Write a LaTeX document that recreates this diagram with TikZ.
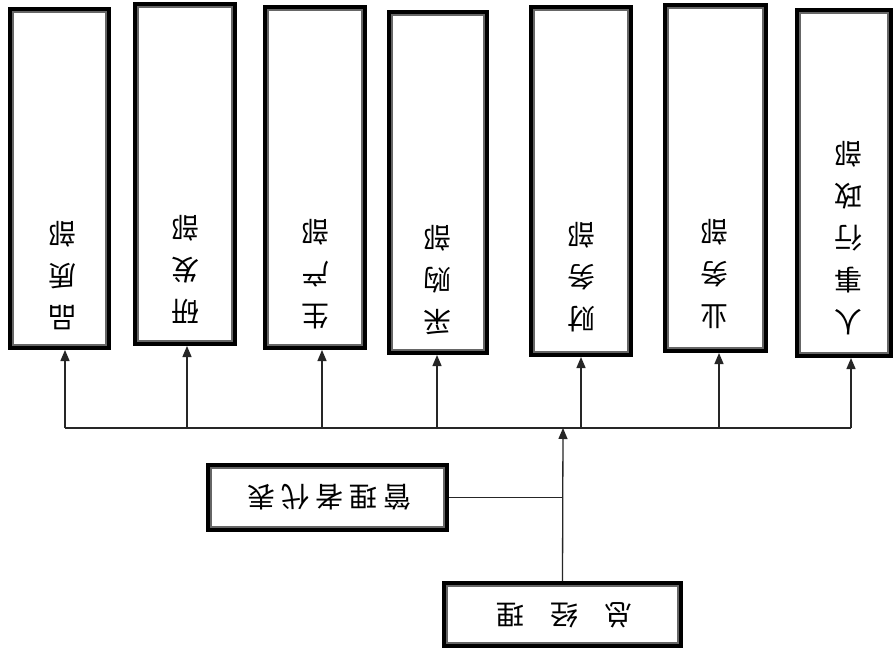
\documentclass[tikz,border=0pt]{standalone}
\usepackage{fontspec}
\newfontfamily\cjk{Noto Sans CJK SC}
\usetikzlibrary{arrows.meta}
\tikzset{
  boxstyle/.style={draw=black, line width=3.8pt, inner sep=0pt, fill=white},
  innerline/.style={draw=black!60, line width=1.4pt},
  vtext/.style={rotate=180, anchor=north, align=center, inner sep=0pt,
    font=\cjk\fontsize{28}{42}\selectfont},
  htext/.style={rotate=180, inner sep=0pt, font=\cjk\fontsize{28}{34}\selectfont},
  conn/.style={line width=1.3pt, draw=black!85},
  bus/.style={line width=1.8pt, draw=black!85},
  arr/.style={conn, -{Triangle[length=11pt,width=9pt]}}
}
\begin{document}
\begin{tikzpicture}[x=1pt,y=-1pt]
\useasboundingbox[fill=white] (0,0) rectangle (896,652);
% department boxes
\node[boxstyle, minimum width=99.2pt, minimum height=339.2pt] (b1) at (59.5,178.5) {};
\node[boxstyle, minimum width=100.2pt, minimum height=340.2pt] (b2) at (185,174) {};
\node[boxstyle, minimum width=100.2pt, minimum height=341.2pt] (b3) at (315,177.5) {};
\node[boxstyle, minimum width=98.2pt, minimum height=341.2pt] (b4) at (438,182.5) {};
\node[boxstyle, minimum width=100.2pt, minimum height=348.2pt] (b5) at (581,181) {};
\node[boxstyle, minimum width=101.2pt, minimum height=346.2pt] (b6) at (715.5,178) {};
\node[boxstyle, minimum width=94.2pt, minimum height=346.2pt] (b7) at (844,183) {};
% management boxes
\node[boxstyle, minimum width=239.2pt, minimum height=65.2pt] (rep) at (327.5,497.5) {};
\node[boxstyle, minimum width=237.2pt, minimum height=63.2pt] (gm) at (562.5,614.5) {};
% inner gray frames
\foreach \n in {b1,b2,b3,b4,b5,b6,b7,rep,gm}
  \draw[innerline] ([xshift=5pt,yshift=-5pt]\n.north west) rectangle ([xshift=-5pt,yshift=5pt]\n.south east);
% texts (upside down)
\node[vtext] (t1) at (62,330) {品\\质\\部};
\node[vtext] (t2) at (185,324) {研\\发\\部};
\node[vtext] (t3) at (315,329) {生\\产\\部};
\node[vtext] (t4) at (437,335) {采\\购\\部};
\node[vtext] (t5) at (581,332) {财\\务\\部};
\node[vtext] (t6) at (714,329) {业\\务\\部};
\node[vtext] (t7) at (848,335) {人\\事\\行\\政\\部};
\node[htext] (trep) at (329,497) {管\kern6pt 理\kern6pt 者\kern6pt 代\kern6pt 表};
\node[htext] (tgm) at (564.5,615) {总\kern26pt 经\kern26pt 理};
% bus and connectors
\coordinate (j1) at (65,428);
\coordinate (j2) at (187,428);
\coordinate (j3) at (322,428);
\coordinate (j4) at (437,428);
\coordinate (j5) at (581,428);
\coordinate (j6) at (719,428);
\coordinate (j7) at (851,428);
\coordinate (jg) at (563,428);
\draw[bus] (j1) -- (j7);
\draw[arr] (j1) -- (j1 |- b1.south);
\draw[arr] (j2) -- (j2 |- b2.south);
\draw[arr] (j3) -- (j3 |- b3.south);
\draw[arr] (j4) -- (j4 |- b4.south);
\draw[arr] (j5) -- (j5 |- b5.south);
\draw[arr] (j6) -- (j6 |- b6.south);
\draw[arr] (j7) -- (j7 |- b7.south);
\draw[arr] (gm.north) -- (jg);
\draw[conn] (rep.east) -- (rep.east -| gm.north);
\end{tikzpicture}
\end{document}
